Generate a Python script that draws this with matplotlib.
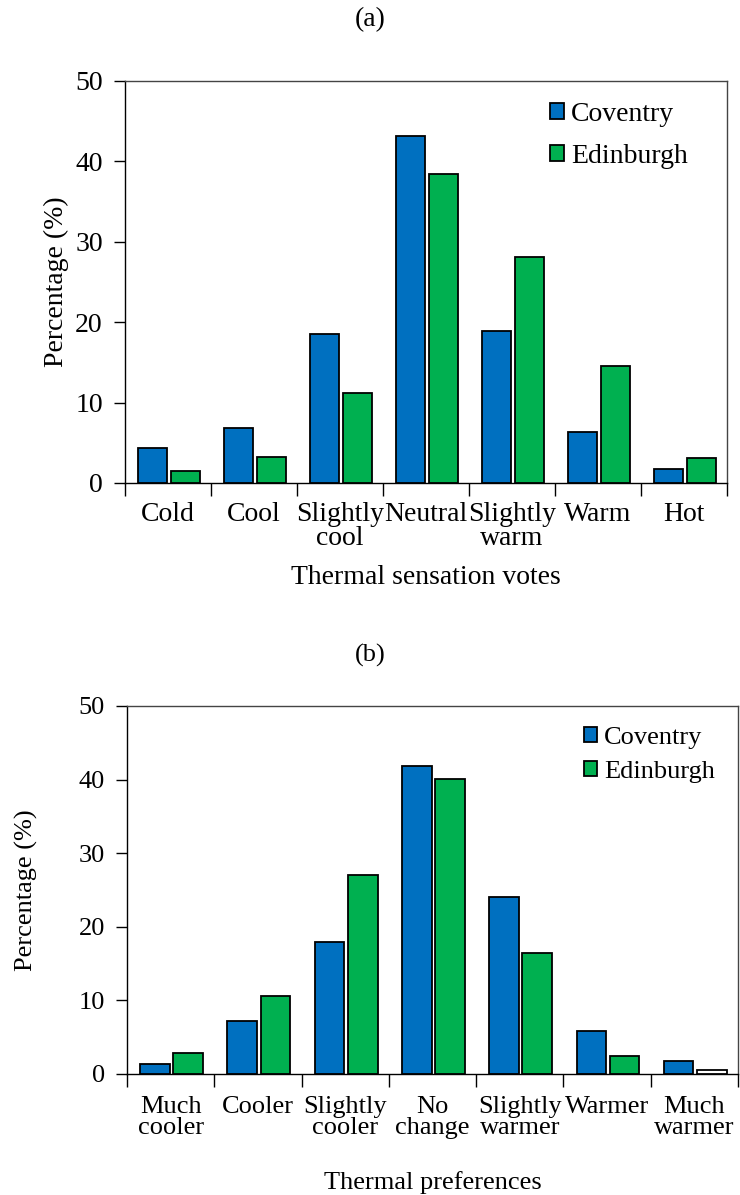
import matplotlib
matplotlib.use("Agg")
import matplotlib.pyplot as plt
import numpy as np
from matplotlib.patches import Patch

plt.rcParams['font.family'] = ['Liberation Serif', 'DejaVu Serif']

cats_a = ["Cold", "Cool", "Slightly\ncool", "Neutral", "Slightly\nwarm", "Warm", "Hot"]
cov_a = [4.4, 6.9, 18.5, 43.2, 18.9, 6.4, 1.7]
edi_a = [1.5, 3.2, 11.2, 38.4, 28.1, 14.5, 3.1]

cats_b = ["Much\ncooler", "Cooler", "Slightly\ncooler", "No\nchange", "Slightly\nwarmer", "Warmer", "Much\nwarmer"]
cov_b = [1.4, 7.2, 18.0, 41.8, 24.1, 5.9, 1.8]
edi_b = [2.8, 10.6, 27.1, 40.1, 16.4, 2.4, 0.5]
edi_b_colors = ["#00B050"] * 6 + ["white"]

series = ["Coventry", "Edinburgh"]
yticks = [0, 10, 20, 30, 40, 50]

BLUE = "#0070C0"
GREEN = "#00B050"

fig = plt.figure(figsize=(7.4, 11.95), dpi=100)
W, H = 740, 1195

def make_ax(l, r, t, b):
    return fig.add_axes([l / W, 1 - b / H, (r - l) / W, (b - t) / H])

def draw(ax, cats, cov, edi, edi_cols, xlabel, title, title_y, xlabel_y,
         ylabel_x, legend_pos, fs, pad, lspace, legspace):
    x = np.arange(len(cats))
    w = 0.34
    ax.bar(x - 0.18, cov, w, color=BLUE, edgecolor="black", linewidth=1.3, zorder=3)
    ax.bar(x + 0.20, edi, w, color=edi_cols, edgecolor="black", linewidth=1.3, zorder=3)
    ax.set_xlim(-0.5, len(cats) - 0.5)
    ax.set_ylim(0, 50)
    ax.set_yticks(yticks)
    ax.tick_params(axis='y', direction='out', length=8, width=1, labelsize=fs, pad=8)
    ax.set_xticks(np.arange(-0.5, len(cats)), minor=False)
    ax.set_xticklabels([])
    ax.tick_params(axis='x', which='major', direction='out', length=9, width=1)
    ax.set_xticks(x, minor=True)
    ax.set_xticklabels(cats, minor=True, fontsize=fs, linespacing=lspace, va='top')
    ax.tick_params(axis='x', which='minor', length=0, pad=pad)
    for s in ['top', 'right']:
        ax.spines[s].set_color('#444444')
    for s in ax.spines.values():
        s.set_linewidth(1.0)
    ax.set_ylabel("Percentage (%)", fontsize=fs)
    pos = ax.get_position()
    ax.yaxis.set_label_coords(ylabel_x / W, 0.5 * (pos.y0 + pos.y1), transform=fig.transFigure)
    handles = [Patch(facecolor=BLUE, edgecolor="black", linewidth=1.3),
               Patch(facecolor=GREEN, edgecolor="black", linewidth=1.3)]
    ax.legend(handles, series, loc='upper left', bbox_to_anchor=legend_pos,
              bbox_transform=fig.transFigure, frameon=False, fontsize=fs,
              handlelength=0.5, handleheight=0.5, handletextpad=0.25, labelspacing=legspace,
              borderpad=0, borderaxespad=0)
    fig.text(0.5, title_y, title, ha='center', va='center', fontsize=fs)
    fig.text(0.5 * (pos.x0 + pos.x1), xlabel_y, xlabel, ha='center', va='center', fontsize=fs)

ax1 = make_ax(125, 727, 81, 483)
draw(ax1, cats_a, cov_a, edi_a, GREEN, "Thermal sensation votes",
     "(a)", 1 - 20 / H, 1 - 578 / H, 69, (550 / W, 1 - 102 / H), 20, 14, 0.9, 0.6)

ax2 = make_ax(127, 738, 706, 1074)
draw(ax2, cats_b, cov_b, edi_b, edi_b_colors, "Thermal preferences",
     "(b)", 1 - 655 / H, 1 - 1183 / H, 38, (584 / W, 1 - 727 / H), 19, 16, 0.9, 0.45)

fig.savefig("out.png", dpi=100)
